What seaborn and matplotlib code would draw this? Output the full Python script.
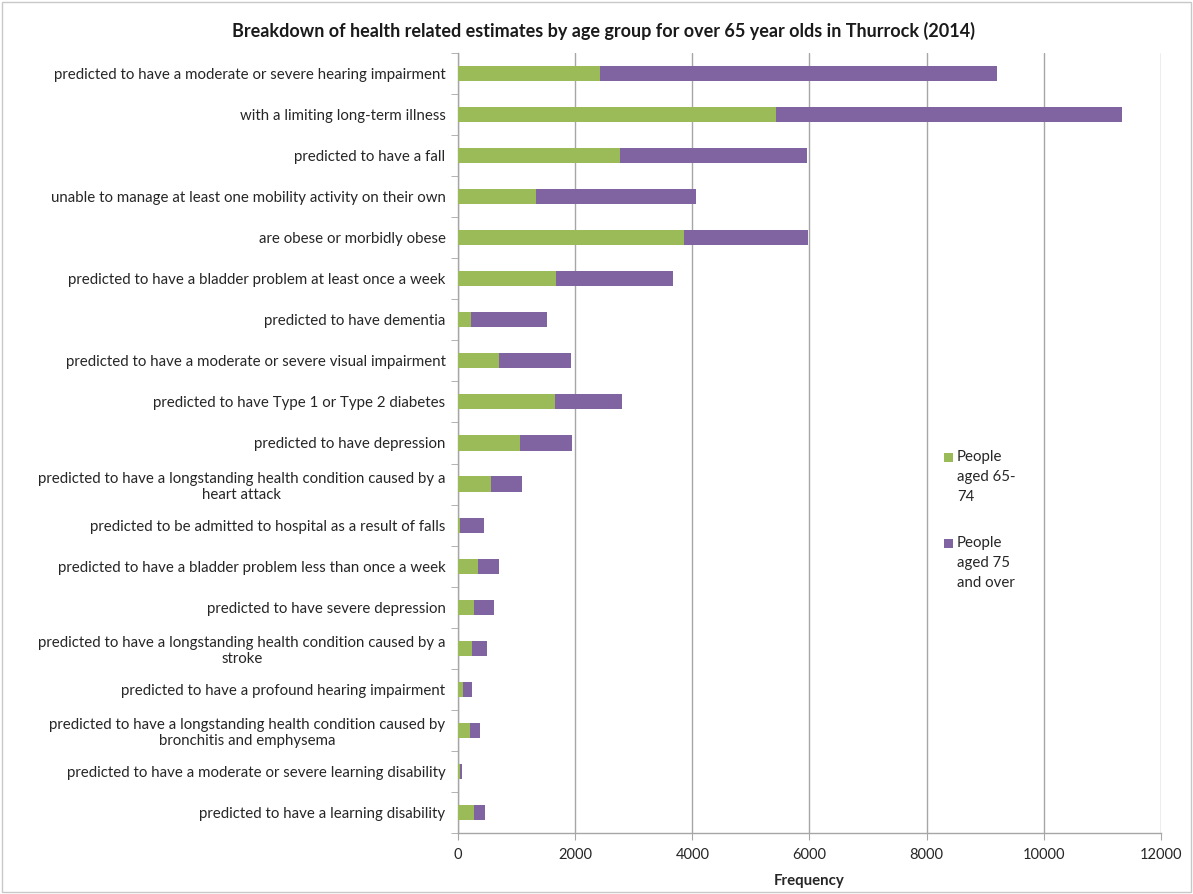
import matplotlib
matplotlib.use("Agg")
import matplotlib.pyplot as plt
import matplotlib.patches as mpatches
import pandas as pd
import seaborn as sns

# Data
categories = [
    "predicted to have a moderate or severe hearing impairment",
    "with a limiting long-term illness",
    "predicted to have a fall",
    "unable to manage at least one mobility activity on their own",
    "are obese or morbidly obese",
    "predicted to have a bladder problem at least once a week",
    "predicted to have dementia",
    "predicted to have a moderate or severe visual impairment",
    "predicted to have Type 1 or Type 2 diabetes",
    "predicted to have depression",
    "predicted to have a longstanding health condition caused by a\nheart attack",
    "predicted to be admitted to hospital as a result of falls",
    "predicted to have a bladder problem less than once a week",
    "predicted to have severe depression",
    "predicted to have a longstanding health condition caused by a\nstroke",
    "predicted to have a profound hearing impairment",
    "predicted to have a longstanding health condition caused by\nbronchitis and emphysema",
    "predicted to have a moderate or severe learning disability",
    "predicted to have a learning disability",
]
aged_65_74 = [2430, 5430, 2770, 1330, 3865, 1675, 225, 705, 1650, 1060,
              565, 35, 345, 275, 240, 85, 210, 25, 275]
aged_75_over = [6770, 5900, 3185, 2735, 2105, 1990, 1285, 1230, 1150, 890,
                520, 400, 360, 340, 260, 155, 160, 38, 180]
legend_labels = ["People\naged 65-\n74", "People\naged 75\nand over"]

green = "#9BBB59"
purple = "#8064A2"
text_col = "#262626"

df = pd.DataFrame({"category": categories,
                   "young": aged_65_74,
                   "old": aged_75_over})
df["total"] = df["young"] + df["old"]

sns.set_style("white")
plt.rcParams["font.family"] = ["Lato", "DejaVu Sans"]

fig = plt.figure(figsize=(11.93, 8.94), dpi=100)
ax = fig.add_axes([0.384, 0.068, 0.589, 0.873])

# Stacked bars: total first (purple), then the 65-74 part on top (green)
sns.barplot(data=df, x="total", y="category", color=purple, width=0.37,
            saturation=1, linewidth=0, ax=ax, zorder=3)
sns.barplot(data=df, x="young", y="category", color=green, width=0.37,
            saturation=1, linewidth=0, ax=ax, zorder=4)

ax.set_xlim(0, 12000)
ax.set_ylim(len(categories) - 0.5, -0.5)
ax.set_xticks(range(0, 12001, 2000))
ax.grid(axis="x", color="#a6a6a6", linewidth=1, zorder=0)
ax.grid(axis="y", visible=False)

for side in ["top", "right"]:
    ax.spines[side].set_visible(False)
for side in ["left", "bottom"]:
    ax.spines[side].set_color("#a6a6a6")
    ax.spines[side].set_linewidth(1)

# category boundaries as small outward ticks on the y axis
ax.set_yticks([i + 0.5 for i in range(-1, len(categories))], minor=True)
ax.tick_params(axis="y", which="major", length=0, pad=9, labelsize=10.8,
               labelcolor=text_col)
ax.tick_params(axis="y", which="minor", length=5, color="#a6a6a6", left=True)
ax.tick_params(axis="x", which="major", length=5, color="#a6a6a6", bottom=True,
               labelsize=10.5, labelcolor=text_col, pad=6)
for lab in ax.get_yticklabels():
    lab.set_multialignment("center")

ax.set_ylabel("")
ax.set_xlabel("Frequency", fontsize=10.8, fontweight="bold", labelpad=8)
fig.suptitle("Breakdown of health related estimates by age group for over 65 year olds in Thurrock (2014)",
             x=0.506, y=0.975, fontsize=13, fontweight="bold", color="#1a1a1a")

# legend: small square next to the first line of each label
legend_colors = [green, purple]
legend_tops = [0.495, 0.399]
for lbl, col, top in zip(legend_labels, legend_colors, legend_tops):
    fig.patches.append(mpatches.Rectangle((0.7915, top - 0.0115), 0.0075, 0.01,
                                          transform=fig.transFigure,
                                          facecolor=col, edgecolor="none"))
    fig.text(0.802, top + 0.002, lbl, ha="left", va="top", fontsize=10.8,
             color=text_col, linespacing=1.55)

# thin border round the chart area
fig.patches.append(mpatches.Rectangle((0.002, 0.002), 0.996, 0.996, transform=fig.transFigure,
                                      fill=False, edgecolor="#c8c8c8", linewidth=1))

fig.savefig("out.png", dpi=100)
